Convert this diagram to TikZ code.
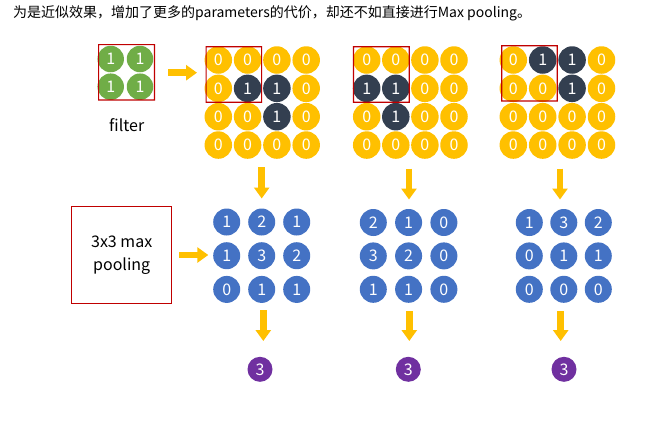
\documentclass[tikz,border=0pt]{standalone}
\usepackage{fontspec}
\setmainfont{Noto Sans CJK SC}
\usetikzlibrary{arrows.meta}
\definecolor{cy}{HTML}{FFC000}
\definecolor{cd}{HTML}{333F50}
\definecolor{cg}{HTML}{70AD47}
\definecolor{cb}{HTML}{4472C4}
\definecolor{cp}{HTML}{7030A0}
\definecolor{boxred}{HTML}{C00000}
\begin{document}
\begin{tikzpicture}[x=1pt,y=-1pt,
  cell/.style={circle,minimum size=27.5pt,inner sep=0pt,text=white,font=\fontsize{16}{16}\selectfont},
  c0/.style={cell,fill=cy},
  c1/.style={cell,fill=cd},
  gcell/.style={cell,fill=cg,minimum size=26.5pt},
  bcell/.style={cell,fill=cb,minimum size=27pt},
  pcell/.style={cell,fill=cp,minimum size=25pt},
  redbox/.style={draw=boxred,line width=1pt},
  frame/.style={fill=boxred,even odd rule},
  yarrow/.style={draw=cy,line width=6.5pt,-{Triangle[width=15pt,length=11pt]}},
  lbl/.style={font=\fontsize{16}{23}\selectfont}]
\useasboundingbox (0,0) rectangle (669,421);
\fill[white] (0,0) rectangle (669,421);
% title
\node[anchor=west,inner sep=0pt,font=\fontsize{14}{14}\selectfont] (title) at (13,13) {为是近似效果，增加了更多的parameters的代价，却还不如直接进行Max pooling。};
% filter
\foreach \r in {1,2} \foreach \c in {1,2}
  \node[gcell] (f-\r-\c) at ({110.7+(\c-1)*29.3},{59+(\r-1)*27.7}) {1};
\node[lbl] (flabel) at (126.7,125) {filter};
% 4x4 grids
\foreach \row [count=\r] in {{0,0,0,0},{0,1,1,0},{0,0,1,0},{0,0,0,0}}
  \foreach \v [count=\c] in \row
    \node[c\v] (a-\r-\c) at ({218.3+(\c-1)*29.3},{60+(\r-1)*28.35}) {\v};
\foreach \row [count=\r] in {{0,0,0,0},{1,1,0,0},{0,1,0,0},{0,0,0,0}}
  \foreach \v [count=\c] in \row
    \node[c\v] (b-\r-\c) at ({366.7+(\c-1)*29.1},{60+(\r-1)*28.35}) {\v};
\foreach \row [count=\r] in {{0,1,1,0},{0,0,1,0},{0,0,0,0},{0,0,0,0}}
  \foreach \v [count=\c] in \row
    \node[c\v] (c-\r-\c) at ({513.3+(\c-1)*29.4},{60+(\r-1)*28.35}) {\v};
% red windows (thin frames)
\fill[frame] (98,44) rectangle (155,100.5) (99.2,45.2) rectangle (153.8,99.3);
\fill[frame] (205.5,46.2) rectangle (262.2,102.8) (206.7,47.4) rectangle (261,101.6);
\fill[frame] (352.8,46.2) rectangle (409.8,102.8) (354,47.4) rectangle (408.6,101.6);
\fill[frame] (501.2,45.2) rectangle (557.8,101.5) (502.4,46.4) rectangle (556.6,100.3);
% 3x3 blue grids
\foreach \row [count=\r] in {{1,2,1},{1,3,2},{0,1,1}}
  \foreach \v [count=\c] in \row
    \node[bcell] (pa-\r-\c) at ({226.7+(\c-1)*35},{222+(\r-1)*33.7}) {\v};
\foreach \row [count=\r] in {{2,1,0},{3,2,0},{1,1,0}}
  \foreach \v [count=\c] in \row
    \node[bcell] (pb-\r-\c) at ({373.3+(\c-1)*35.3},{222.5+(\r-1)*33.4}) {\v};
\foreach \row [count=\r] in {{1,3,2},{0,1,1},{0,0,0}}
  \foreach \v [count=\c] in \row
    \node[bcell] (pc-\r-\c) at ({529.3+(\c-1)*34.5},{222.5+(\r-1)*33.4}) {\v};
% pooling box
\node[redbox,lbl,minimum width=100pt,minimum height=97.3pt,align=center,inner sep=0pt] (pool) at (121.7,255.3) {3x3 max\\pooling};
% results
\node[pcell] (ra) at (260,369.3) {3};
\node[pcell] (rb) at (408.3,369.3) {3};
\node[pcell] (rc) at (564,369.3) {3};
% arrow coordinates
\coordinate (fa1) at (168,72.7); \coordinate (fa2) at (197,72.7);
\coordinate (pa1) at (179.3,255); \coordinate (pa2) at (208.3,255);
\coordinate (d1a) at (261.7,167); \coordinate (d1b) at (261.7,198.5);
\coordinate (d2a) at (409,168.5); \coordinate (d2b) at (409,199.5);
\coordinate (d3a) at (560,168.5); \coordinate (d3b) at (560,199.5);
\coordinate (e1a) at (263.3,310); \coordinate (e1b) at (263.3,341);
\coordinate (e2a) at (409.3,311); \coordinate (e2b) at (409.3,341);
\coordinate (e3a) at (560.7,311); \coordinate (e3b) at (560.7,341);
\draw[yarrow] (fa1) -- (fa2);
\draw[yarrow] (pa1) -- (pa2);
\draw[yarrow] (d1a) -- (d1b);
\draw[yarrow] (d2a) -- (d2b);
\draw[yarrow] (d3a) -- (d3b);
\draw[yarrow] (e1a) -- (e1b);
\draw[yarrow] (e2a) -- (e2b);
\draw[yarrow] (e3a) -- (e3b);
\end{tikzpicture}
\end{document}
